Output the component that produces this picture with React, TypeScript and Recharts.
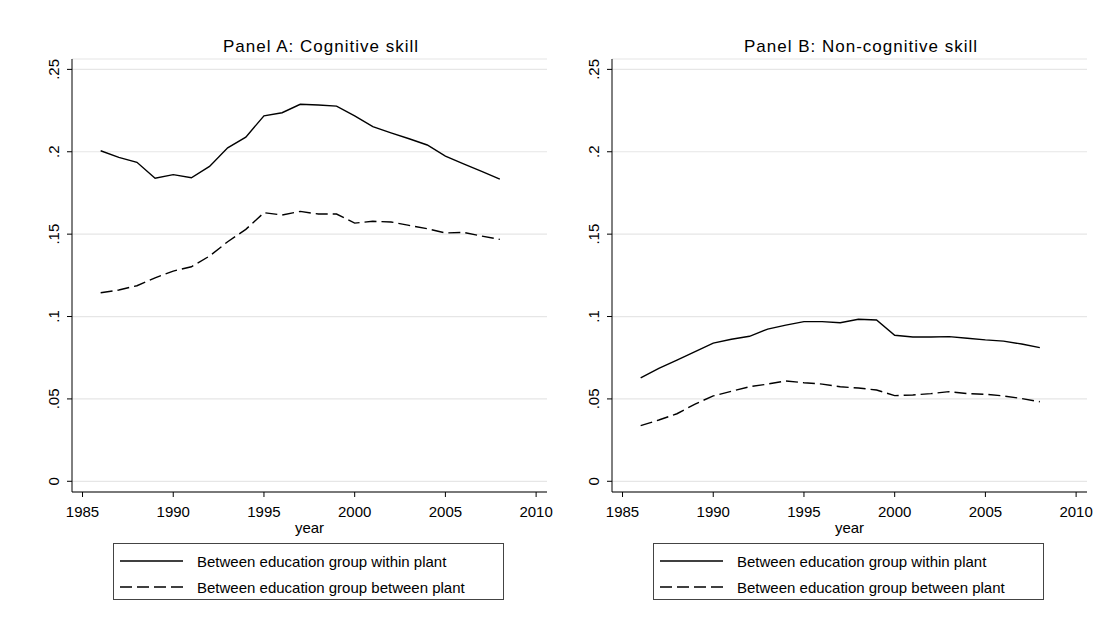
import React from 'react';
import { LineChart, Line, XAxis, YAxis, CartesianGrid, Legend } from 'recharts';

const years = [
  1986, 1987, 1988, 1989, 1990, 1991, 1992, 1993, 1994, 1995, 1996, 1997,
  1998, 1999, 2000, 2001, 2002, 2003, 2004, 2005, 2006, 2007, 2008,
];

// Panel A: cognitive skill
const cogWithin = [
  0.2006, 0.1966, 0.1936, 0.1839, 0.1861, 0.1842, 0.1911, 0.2024, 0.2089, 0.2218, 0.2237, 0.2288,
  0.2284, 0.2277, 0.2218, 0.2152, 0.2115, 0.2079, 0.2041, 0.1974, 0.1927, 0.1881, 0.1834,
];
const cogBetween = [
  0.1144, 0.1161, 0.1187, 0.1235, 0.1276, 0.1302, 0.1367, 0.1454, 0.1529, 0.163, 0.1616, 0.1638,
  0.1622, 0.1622, 0.1567, 0.1578, 0.1574, 0.1553, 0.1533, 0.1507, 0.1511, 0.1488, 0.1468,
];

// Panel B: non-cognitive skill
const nonCogWithin = [
  0.0627, 0.0686, 0.0736, 0.0787, 0.0839, 0.0862, 0.088, 0.0924, 0.0948, 0.0969, 0.0969, 0.0962,
  0.0983, 0.0979, 0.0886, 0.0876, 0.0876, 0.0878, 0.0868, 0.0858, 0.0851, 0.0833, 0.0811,
];
const nonCogBetween = [
  0.0338, 0.0372, 0.041, 0.0469, 0.0518, 0.0546, 0.0574, 0.059, 0.0609, 0.0598, 0.059, 0.0574,
  0.0566, 0.0554, 0.052, 0.0524, 0.0532, 0.0544, 0.0532, 0.0528, 0.0518, 0.0502, 0.0483,
];

const xTicks = [1985, 1990, 1995, 2000, 2005, 2010];
const yTicks = [0, 0.05, 0.1, 0.15, 0.2, 0.25];
const yTickLabels = ['0', '.05', '.1', '.15', '.2', '.25'];
const seriesNames = [
  'Between education group within plant',
  'Between education group between plant',
];
const panelTitles = ['Panel A: Cognitive skill', 'Panel B: Non-cognitive skill'];

const FONT = '"Liberation Sans", Arial, Helvetica, sans-serif';
const DASH = '12 5';

const buildRows = (within: number[], between: number[]) =>
  years.map((year, i) => ({ year, within: within[i], between: between[i] }));

const YTick = (props: any) => {
  const { x, y, payload } = props;
  const idx = yTicks.findIndex((t) => Math.abs(t - payload.value) < 1e-9);
  return (
    <text
      transform={`translate(${x},${y}) rotate(-90)`}
      textAnchor="middle"
      fill="#000"
      fontSize={15}
      fontFamily={FONT}
    >
      {idx >= 0 ? yTickLabels[idx] : ''}
    </text>
  );
};

const LegendBox = () => (
  <div
    style={{
      position: 'relative',
      boxSizing: 'border-box',
      width: 391,
      height: 57,
      border: '1px solid #444',
      background: '#fff',
      fontFamily: FONT,
      fontSize: 15,
      color: '#000',
    }}
  >
    {seriesNames.map((name, i) => (
      <div
        key={name}
        style={{
          position: 'absolute',
          left: 0,
          top: i === 0 ? 8 : 34,
          height: 18,
          display: 'flex',
          alignItems: 'center',
          whiteSpace: 'nowrap',
        }}
      >
        <svg width={70} height={18}>
          <line
            x1={6}
            x2={69}
            y1={9}
            y2={9}
            stroke="#000"
            strokeWidth={1.3}
            strokeDasharray={i === 1 ? DASH : undefined}
          />
        </svg>
        <span style={{ marginLeft: 13 }}>{name}</span>
      </div>
    ))}
  </div>
);

const Panel = ({
  left,
  title,
  within,
  between,
}: {
  left: number;
  title: string;
  within: number[];
  between: number[];
}) => {
  const rows = buildRows(within, between);
  return (
    <div style={{ position: 'absolute', left, top: 0, width: 560, height: 633 }}>
      <div
        style={{
          position: 'absolute',
          left: 121,
          top: 37,
          width: 400,
          textAlign: 'center',
          fontFamily: FONT,
          fontSize: 17,
          letterSpacing: 1,
          lineHeight: '20px',
          color: '#000',
          zIndex: 2,
        }}
      >
        {title}
      </div>
      <LineChart
        width={560}
        height={633}
        data={rows}
        margin={{ top: 59, right: 13, left: 0, bottom: 100 }}
      >
        <CartesianGrid horizontal vertical={false} stroke="#e6e6e6" strokeWidth={1.2} />
        <XAxis
          dataKey="year"
          type="number"
          domain={[1984.42, 2010.6]}
          ticks={xTicks}
          allowDataOverflow
          stroke="#000"
          tickSize={5}
          tickMargin={9}
          height={41}
          tick={{ fill: '#000', fontSize: 15, fontFamily: FONT }}
          label={{
            value: 'year',
            position: 'insideBottom',
            offset: 0,
            fill: '#000',
            fontSize: 15,
            fontFamily: FONT,
          }}
        />
        <YAxis
          type="number"
          domain={[-0.0065, 0.2563]}
          ticks={yTicks}
          allowDataOverflow
          width={72}
          stroke="#000"
          tickSize={5}
          tickMargin={8}
          tick={<YTick />}
        />
        <Legend
          layout="horizontal"
          verticalAlign="middle"
          align="center"
          wrapperStyle={{ left: 113, top: 543, width: 391, height: 57 }}
          content={<LegendBox />}
        />
        <Line
          type="linear"
          dataKey="within"
          name={seriesNames[0]}
          stroke="#000"
          strokeWidth={1.4}
          dot={false}
          isAnimationActive={false}
        />
        <Line
          type="linear"
          dataKey="between"
          name={seriesNames[1]}
          stroke="#000"
          strokeWidth={1.4}
          strokeDasharray={DASH}
          dot={false}
          isAnimationActive={false}
        />
      </LineChart>
    </div>
  );
};

export default function App() {
  return (
    <div
      style={{
        position: 'absolute',
        left: 0,
        top: 0,
        width: 1109,
        height: 633,
        background: '#fff',
      }}
    >
      <Panel left={0} title={panelTitles[0]} within={cogWithin} between={cogBetween} />
      <Panel left={540} title={panelTitles[1]} within={nonCogWithin} between={nonCogBetween} />
    </div>
  );
}
